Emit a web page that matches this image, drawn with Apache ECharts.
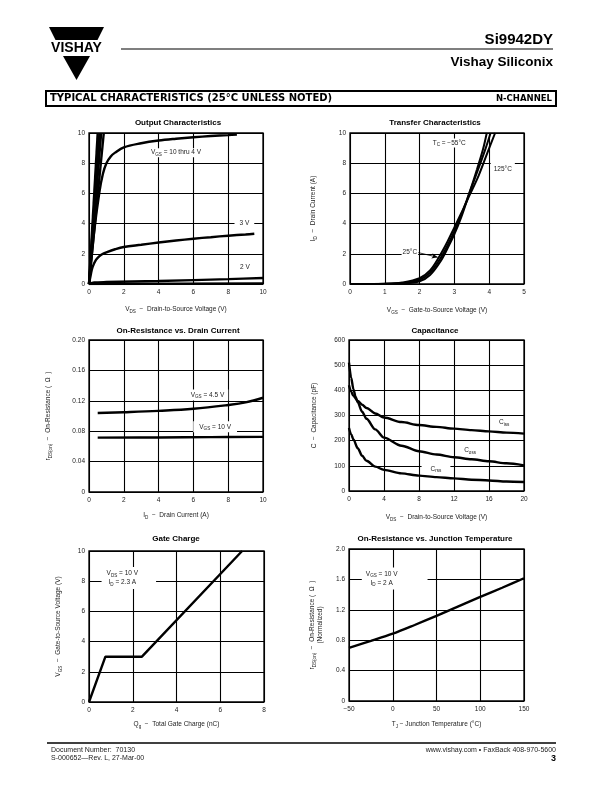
<!DOCTYPE html>
<html><head><meta charset="utf-8">
<script src="https://cdn.jsdelivr.net/npm/echarts@6/dist/echarts.min.js"></script>
<style>html,body{margin:0;padding:0;background:#fff}#c{width:612px;height:792px}</style>
</head><body><div id="c"></div>
<script>
// ---------- DATA ----------
// Output characteristics (VDS, ID)
const outVgs10 = [[0,0],[0.5,10]];
const outVgs8 = [[0,0],[0.6,10]];
const outVgs6 = [[0,0],[0.7,10]];
const outVgs5 = [[0,0],[0.85,10]];
const outVgs4 = [[0,0],[0.3,3.5],[0.6,6.1],[0.8,7.3],[1,8.0],[1.25,8.45],[1.5,8.7],[2,9.05],[3,9.32],[4,9.5],[5,9.62],[6,9.72],[7,9.8],[8,9.86],[8.5,9.9]];
const outVgs3 = [[0,0],[0.1,0.6],[0.2,1.1],[0.4,1.6],[0.6,1.85],[0.8,2.0],[1,2.1],[1.5,2.3],[2,2.45],[3,2.6],[4,2.75],[5,2.88],[6,3.0],[7,3.1],[8,3.2],[9,3.28],[9.5,3.33]];
const outVgs2 = [[0,0],[0.3,0.1],[1,0.13],[4,0.2],[8,0.32],[10,0.4]];
const outVgs1 = [[0,0],[10,0.04]];
// Transfer characteristics (VGS, ID)
const trM55 = [[0,0],[1.5,0.03],[2,0.18],[2.3,0.6],[2.6,1.5],[2.8,2.35],[3,3.3],[3.2,4.45],[3.42,5.95],[3.65,7.6],[3.82,8.9],[3.93,10]];
const tr25 = [[0,0],[1,0.01],[1.5,0.06],[2,0.28],[2.3,0.75],[2.6,1.7],[2.8,2.55],[3,3.5],[3.2,4.6],[3.42,5.95],[3.7,7.7],[3.9,9.0],[4.04,10]];
const tr125 = [[0,0],[1,0.02],[1.5,0.1],[2,0.38],[2.3,0.9],[2.55,1.75],[2.8,2.8],[3,3.75],[3.2,4.7],[3.45,5.95],[3.7,7.2],[3.95,8.7],[4.17,10]];
// On-resistance vs drain current (ID, rDS(on))
const ronVgs45 = [[0.5,0.104],[2,0.105],[4,0.1068],[6,0.1095],[8,0.1145],[9,0.118],[10,0.124]];
const ronVgs10 = [[0.5,0.0715],[4,0.0718],[7,0.0722],[10,0.0725]];
// Capacitance (VDS, pF)
const cIss = [[0,420],[0.25,395],[0.5,378],[1,358],[1.5,343],[2,330],[3,308],[4,292],[6,274],[8,262],[10,255],[12,248],[14,242],[16,237],[18,232],[20,228]];
const cOss = [[0,510],[0.25,450],[0.5,405],[0.75,375],[1,352],[1.5,315],[2,287],[3,245],[4,212],[6,180],[8,158],[10,145],[12,134],[14,126],[16,118],[18,110],[20,102]];
const cRss = [[0,250],[0.25,225],[0.5,205],[1,170],[1.5,140],[2,120],[3,97],[4,84],[6,70],[8,61],[10,55],[12,50],[14,45],[16,42],[18,38],[20,36]];
// Gate charge (Qg, VGS)
const gateCharge = [[0,0],[0.75,3],[2.42,3],[7.0,10]];
// On-resistance vs junction temperature (TJ, normalized)
const ronTemp = [[-50,0.70],[-25,0.79],[0,0.885],[25,1.0],[50,1.12],[75,1.245],[100,1.37],[125,1.49],[150,1.615]];

// ---------- STYLE ----------
const FONT = '"Liberation Sans", Arial, Helvetica, sans-serif';
const BANDFONT = '"DejaVu Sans", "Liberation Sans", Arial, sans-serif';
const TXT = '#222';
const rich = {
  m:{fontSize:6.5, color:TXT, fontFamily:FONT},
  s:{fontSize:4.6, color:TXT, fontFamily:FONT, padding:[4,0,0,0]}
};
const grids = [
  {left:89, top:133, width:174, height:151},
  {left:350, top:133, width:174, height:151},
  {left:89, top:340, width:174, height:152},
  {left:349, top:340, width:175, height:151},
  {left:89, top:551, width:175, height:151},
  {left:349, top:549, width:175, height:152}
].map(g => Object.assign({show:true, borderColor:'#000', borderWidth:1.3, backgroundColor:'transparent'}, g));

function axisBase(gi, min, max, interval, name, gap, fmt){
  return {
    type:'value', gridIndex:gi, min, max, interval,
    axisLine:{show:false}, axisTick:{show:false},
    splitLine:{show:true, lineStyle:{color:'#000', width:1.1}},
    axisLabel:{fontSize:6.5, color:TXT, fontFamily:FONT, margin:5, formatter:fmt},
    name:name, nameLocation:'middle', nameGap:gap,
    nameTextStyle:{fontSize:6.5, color:TXT, fontFamily:FONT, rich:rich}
  };
}
const minus = v => String(v).replace('-', '\u2212');
const xAxes = [
  axisBase(0,0,10,2,'{m|V}{s|DS}{m|  \u2212  Drain-to-Source Voltage (V)}',21),
  axisBase(1,0,5,1,'{m|V}{s|GS}{m|  \u2212  Gate-to-Source Voltage (V)}',22),
  axisBase(2,0,10,2,'{m|I}{s|D}{m|  \u2212  Drain Current (A)}',19),
  axisBase(3,0,20,4,'{m|V}{s|DS}{m|  \u2212  Drain-to-Source Voltage (V)}',22),
  axisBase(4,0,8,2,'{m|Q}{s|g}{m|  \u2212  Total Gate Charge (nC)}',18),
  axisBase(5,-50,150,50,'{m|T}{s|J}{m| \u2212 Junction Temperature (\u00B0C)}',19, minus)
];
const yAxes = [
  axisBase(0,0,10,2,'',30),
  axisBase(1,0,10,2,'{m|I}{s|D}{m|  \u2212  Drain Current (A)}',32),
  axisBase(2,0,0.2,0.04,'{m|r}{s|DS(on)}{m|  \u2212  On-Resistance (  \u03A9  )}',36, v => v===0?'0':v.toFixed(2)),
  axisBase(3,0,600,100,'{m|C  \u2212  Capacitance (pF)}',31),
  axisBase(4,0,10,2,'{m|V}{s|GS}{m|  \u2212  Gate-to-Source Voltage (V)}',26),
  axisBase(5,0,2.0,0.4,'{m|r}{s|DS(on)}{m|  \u2212  On-Resistance (  \u03A9  )}\n{m|(Normalized)}',25, v => v===0?'0':v.toFixed(1))
];
yAxes.forEach(a => { a.nameRotate = 90; a.axisLabel.margin = 4; });

function line(gi, data, extra){
  return Object.assign({
    type:'line', xAxisIndex:gi, yAxisIndex:gi, data:data, showSymbol:false, symbol:'none',
    lineStyle:{color:'#000', width:2.4}, itemStyle:{color:'#000'}, silent:true, animation:false
  }, extra||{});
}
function ann(x, y, text, pad){
  return {coord:[x,y], symbol:'rect', symbolSize:0,
    label:{show:true, position:'inside', formatter:text, backgroundColor:'#fff', padding:pad||[1,3],
      fontSize:6.5, color:TXT, fontFamily:FONT, align:'center', rich:rich, lineHeight:9}};
}
function mp(items){ return {silent:true, symbolSize:0, data:items, animation:false}; }

const series = [
  line(0,outVgs10), line(0,outVgs8), line(0,outVgs6), line(0,outVgs5),
  line(0,outVgs4,{smooth:0.35}),
  line(0,outVgs3,{smooth:0.35}),
  line(0,outVgs2,{smooth:0.3}),
  line(0,outVgs1,{markPoint:mp([
    ann(5.0,8.7,'{m|V}{s|GS}{m| = 10 thru 4 V}',[0,2]),
    ann(8.93,4.02,'{m|3 V}',[1,5]),
    ann(8.96,1.13,'{m|2 V}',[1,3])
  ])}),
  line(1,trM55,{smooth:0.35, lineStyle:{color:'#000',width:2}}),
  line(1,tr25,{smooth:0.35, lineStyle:{color:'#000',width:2}}),
  line(1,tr125,{smooth:0.35, lineStyle:{color:'#000',width:2},
    markPoint:mp([
      ann(2.85,9.34,'{m|T}{s|C}{m| = \u221255\u00B0C}',[0,2]),
      ann(4.39,7.6,'{m|125\u00B0C}',[2,3]),
      ann(1.72,2.13,'{m|25\u00B0C}',[0,1])
    ]),
    markLine:{silent:true, animation:false, symbol:['none','arrow'], symbolSize:[4,6],
      lineStyle:{color:'#000', width:0.8, type:'solid'}, label:{show:false},
      data:[[{coord:[1.96,2.08]},{coord:[2.52,1.77]}]]}
  }),
  line(2,ronVgs45,{smooth:0.4}),
  line(2,ronVgs10,{smooth:0.4, markPoint:mp([
    ann(6.81,0.1275,'{m|V}{s|GS}{m| = 4.5 V}',[1,4]),
    ann(7.25,0.0857,'{m|V}{s|GS}{m| = 10 V}',[1,6])
  ])}),
  line(3,cIss,{smooth:0.3, smoothMonotone:'x'}),
  line(3,cOss,{smooth:0.3, smoothMonotone:'x'}),
  line(3,cRss,{smooth:0.3, smoothMonotone:'x', markPoint:mp([
    ann(17.74,273,'{m|C}{s|iss}',[1,3]),
    ann(13.84,161,'{m|C}{s|oss}',[1,3]),
    ann(9.94,88,'{m|C}{s|rss}',[1,9])
  ])}),
  line(4,gateCharge,{markPoint:mp([
    ann(1.82,8.22,'{m|V}{s|DS}{m| = 10 V}\n{m|I}{s|D}{m| = 2.3 A}',[2,18,2,5])
  ])}),
  line(5,ronTemp,{smooth:0.3, markPoint:mp([
    ann(2.2,1.612,'{m|V}{s|GS}{m| = 10 V}\n{m|I}{s|D}{m| = 2 A}',[2,30,2,4])
  ])})
];
series.forEach(s => { if (s.markPoint) s.markPoint.data.forEach(d => { d.label.align = 'left'; d.label.position = 'inside'; }); });
// keep labels centered on their anchor
series.forEach(s => { if (s.markPoint) s.markPoint.data.forEach(d => { d.label.align = 'center'; }); });

// ---------- PAGE GRAPHICS ----------
const titles = [
  ['Output Characteristics',178,123],
  ['Transfer Characteristics',435,123],
  ['On-Resistance vs. Drain Current',178,331],
  ['Capacitance',435,331],
  ['Gate Charge',176,539],
  ['On-Resistance vs. Junction Temperature',435,539]
];
const graphic = [
  {type:'polygon', shape:{points:[[49,27],[104,27],[97.5,40],[55.5,40]]}, style:{fill:'#000'}},
  {type:'text', x:76.5, y:48, style:{text:'VISHAY', font:'bold 14px '+FONT, fill:'#000', textAlign:'center', textVerticalAlign:'middle'}},
  {type:'polygon', shape:{points:[[63,56],[90,56],[76.5,80]]}, style:{fill:'#000'}},
  {type:'line', shape:{x1:121,y1:49,x2:553,y2:49}, style:{stroke:'#000', lineWidth:1.2}},
  {type:'text', x:553, y:40, style:{text:'Si9942DY', font:'bold 15px '+FONT, fill:'#000', textAlign:'right', textVerticalAlign:'middle'}},
  {type:'text', x:553, y:62, style:{text:'Vishay Siliconix', font:'bold 13.5px '+FONT, fill:'#000', textAlign:'right', textVerticalAlign:'middle'}},
  {type:'rect', shape:{x:46,y:91,width:510,height:15}, style:{fill:'none', stroke:'#000', lineWidth:2}},
  {type:'text', x:50, y:98.7, style:{text:'TYPICAL CHARACTERISTICS (25\u00B0C UNLESS NOTED)', font:'bold 10px '+BANDFONT, fill:'#000', textAlign:'left', textVerticalAlign:'middle'}},
  {type:'text', x:552, y:98.7, style:{text:'N-CHANNEL', font:'bold 8.5px '+BANDFONT, fill:'#000', textAlign:'right', textVerticalAlign:'middle'}},
  {type:'line', shape:{x1:47,y1:743,x2:556,y2:743}, style:{stroke:'#000', lineWidth:1.3}},
  {type:'text', x:51, y:750, style:{text:'Document Number:  70130', font:'7px '+FONT, fill:TXT, textAlign:'left', textVerticalAlign:'middle'}},
  {type:'text', x:51, y:758, style:{text:'S-000652\u2014Rev. L, 27-Mar-00', font:'7px '+FONT, fill:TXT, textAlign:'left', textVerticalAlign:'middle'}},
  {type:'text', x:556, y:750, style:{text:'www.vishay.com \u2022 FaxBack 408-970-5600', font:'7px '+FONT, fill:TXT, textAlign:'right', textVerticalAlign:'middle'}},
  {type:'text', x:556, y:759, style:{text:'3', font:'bold 9px '+FONT, fill:'#000', textAlign:'right', textVerticalAlign:'middle'}}
].concat(titles.map(t => ({type:'text', x:t[1], y:t[2], style:{text:t[0], font:'bold 8px '+FONT, fill:'#000', textAlign:'center', textVerticalAlign:'middle'}})));

const chart = echarts.init(document.getElementById('c'), null, {renderer:'canvas'});
chart.setOption({
  animation:false,
  backgroundColor:'#fff',
  textStyle:{fontFamily:FONT},
  grid:grids, xAxis:xAxes, yAxis:yAxes, series:series, graphic:graphic
});
</script></body></html>
